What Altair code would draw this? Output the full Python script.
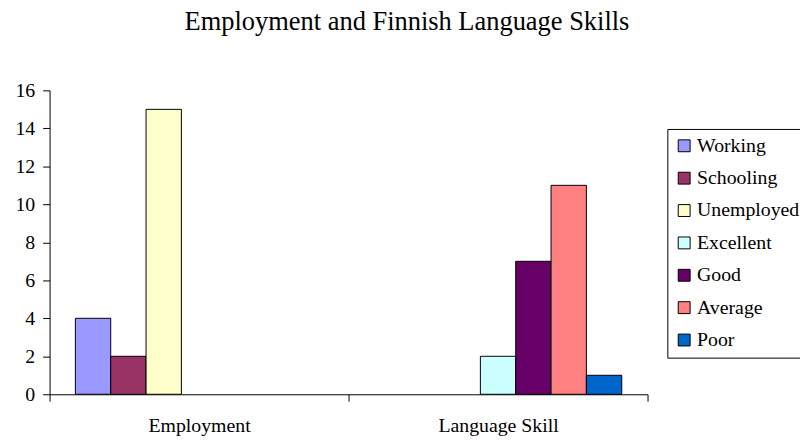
import altair as alt
import pandas as pd

categories = ["Employment", "Language Skill"]
series = ["Working", "Schooling", "Unemployed", "Excellent", "Good", "Average", "Poor"]
employment_values = [4, 2, 15, 0, 0, 0, 0]
language_values = [0, 0, 0, 2, 7, 11, 1]
colors = ["#9999FF", "#993366", "#FFFFCC", "#CCFFFF", "#660066", "#FF8080", "#0066CC"]
y_ticks = [0, 2, 4, 6, 8, 10, 12, 14, 16]

rows = []
for cat, vals in zip(categories, [employment_values, language_values]):
    for s, v in zip(series, vals):
        if v:
            rows.append({"category": cat, "series": s, "value": v})
df = pd.DataFrame(rows)

FONT = "Liberation Serif"

chart = alt.Chart(df).mark_bar(stroke="black", strokeWidth=1).encode(
    x=alt.X(
        "category:N",
        sort=categories,
        scale=alt.Scale(domain=categories, paddingInner=0, paddingOuter=0),
        axis=alt.Axis(
            title=None, labelAngle=0, tickBand="extent", tickSize=7,
            labelPadding=15, labelFont=FONT, labelFontSize=20, labelColor="black",
            domainColor="black", tickColor="black", grid=False,
        ),
    ),
    xOffset=alt.XOffset(
        "series:N",
        scale=alt.Scale(domain=series, paddingInner=0, paddingOuter=0.73),
    ),
    y=alt.Y(
        "value:Q",
        scale=alt.Scale(domain=[0, 16], nice=False),
        axis=alt.Axis(
            title=None, values=y_ticks, tickSize=7, labelPadding=8,
            labelFont=FONT, labelFontSize=20, labelColor="black",
            domainColor="black", tickColor="black", grid=False,
        ),
    ),
    color=alt.Color(
        "series:N",
        scale=alt.Scale(domain=series, range=colors),
        legend=alt.Legend(
            title=None, orient="none", legendX=624, legendY=39,
            strokeColor="black", padding=7, symbolType="square", symbolSize=144,
            symbolStrokeColor="black", symbolStrokeWidth=1, symbolOpacity=1,
            labelFont=FONT, labelFontSize=20, labelColor="black",
            labelOffset=3, rowPadding=12.7, labelLimit=300,
        ),
    ),
).properties(
    width=604,
    height=307,
    title=alt.TitleParams(
        "Employment and Finnish Language Skills",
        font=FONT, fontSize=26.7, fontWeight="normal", color="black",
        anchor="middle", frame="group", dx=59, offset=45,
    ),
    autosize=alt.AutoSizeParams(type="none"),
    padding={"left": 42, "top": 81, "right": 154, "bottom": 44},
).configure(
    font=FONT,
).configure_view(strokeWidth=0).configure_legend(
    labelFont=FONT,
).configure_axis(
    labelFont=FONT,
)

chart.save("out.html", embed_options={"renderer": "svg", "actions": False})
